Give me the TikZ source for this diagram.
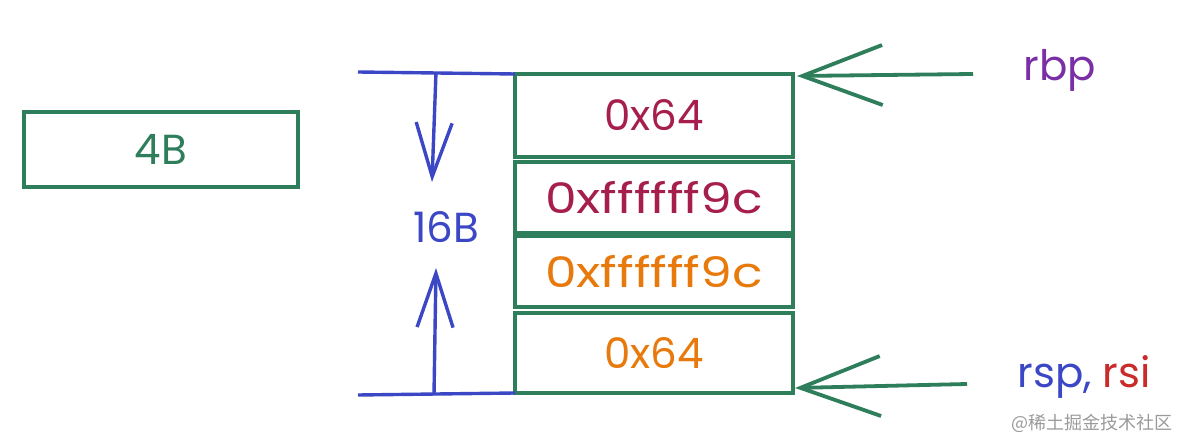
\documentclass[tikz,border=0pt]{standalone}
\usepackage{fontspec}
\setmainfont{Poppins}
\newfontfamily\cjk{Noto Sans CJK SC}
\usetikzlibrary{arrows.meta,calc}
\definecolor{sgreen}{HTML}{2E7D5B}
\definecolor{sblue}{HTML}{3B47C4}
\definecolor{sred}{HTML}{A61E4D}
\definecolor{sorange}{HTML}{E8790C}
\definecolor{spurple}{HTML}{7B2FA6}
\definecolor{srred}{HTML}{C92A2A}
\definecolor{sgray}{HTML}{9A9A9A}
\newcommand{\widetxt}[1]{\scalebox{1.2}[1]{#1}}
\tikzset{
  cell/.style={draw=sgreen, line width=1.9pt, minimum width=139pt, inner sep=0pt, font=\fontsize{21}{24}\selectfont},
  gline/.style={draw=sgreen, line width=1.9pt},
  bline/.style={draw=sblue, line width=1.7pt},
  garrow/.style={gline, -{Straight Barb[length=40pt,width=30pt,line width=1.9pt]}},
  barrow/.style={bline, -{Straight Barb[length=27pt,width=18pt,line width=1.7pt]}},
  lbl/.style={inner sep=0pt, font=\fontsize{21}{24}\selectfont}
}
\begin{document}
\begin{tikzpicture}[x=0.5pt,y=-0.5pt]
\useasboundingbox (0,0) rectangle (1188,448);
% left box
\node[cell, minimum width=137pt, minimum height=37.5pt, text=sgreen] (b4) at (161,149.5) {4B};
% stack cells
\node[cell, minimum height=41.5pt, text=sred] (m1) at (654,115.5) {0x64};
\node[cell, minimum height=35.5pt, text=sred] (m2) at (654,197.5) {\widetxt{0xffffff9c}};
\node[cell, minimum height=35.5pt, text=sorange] (m3) at (654,271.5) {\widetxt{0xffffff9c}};
\node[cell, minimum height=40pt, text=sorange] (m4) at (654,353) {0x64};
% blue dimension lines
\coordinate (tl) at (358,72);
\coordinate (bl) at (358,395);
\coordinate (tr) at (515,74);
\coordinate (br) at (515,393);
\draw[bline] (tl) -- (tr);
\draw[bline] (bl) -- (br);
\coordinate (da) at (436,72);
\coordinate (db) at (432,182);
\coordinate (ua) at (434,395);
\coordinate (ub) at (436,268);
\draw[barrow] (da) -- (db);
\draw[barrow] (ua) -- (ub);
\node[lbl, text=sblue] (s16) at (446,227) {16B};
% green pointer arrows
\coordinate (rbpS) at (973,74);
\coordinate (rbpE) at (797,76);
\coordinate (rspS) at (967,384);
\coordinate (rspE) at (795,388);
\draw[garrow] (rbpS) -- (rbpE);
\draw[garrow] (rspS) -- (rspE);
\node[lbl, text=spurple] (rbp) at (1060,70) {rbp};
\node[lbl, anchor=west] (rsp) at (1017,377) {\textcolor{sblue}{rsp,} \textcolor{srred}{rsi}};
\node[inner sep=0pt, text=sgray, font=\cjk\fontsize{9}{11}\selectfont] (wm) at (1092,423) {@稀土掘金技术社区};
\end{tikzpicture}
\end{document}
